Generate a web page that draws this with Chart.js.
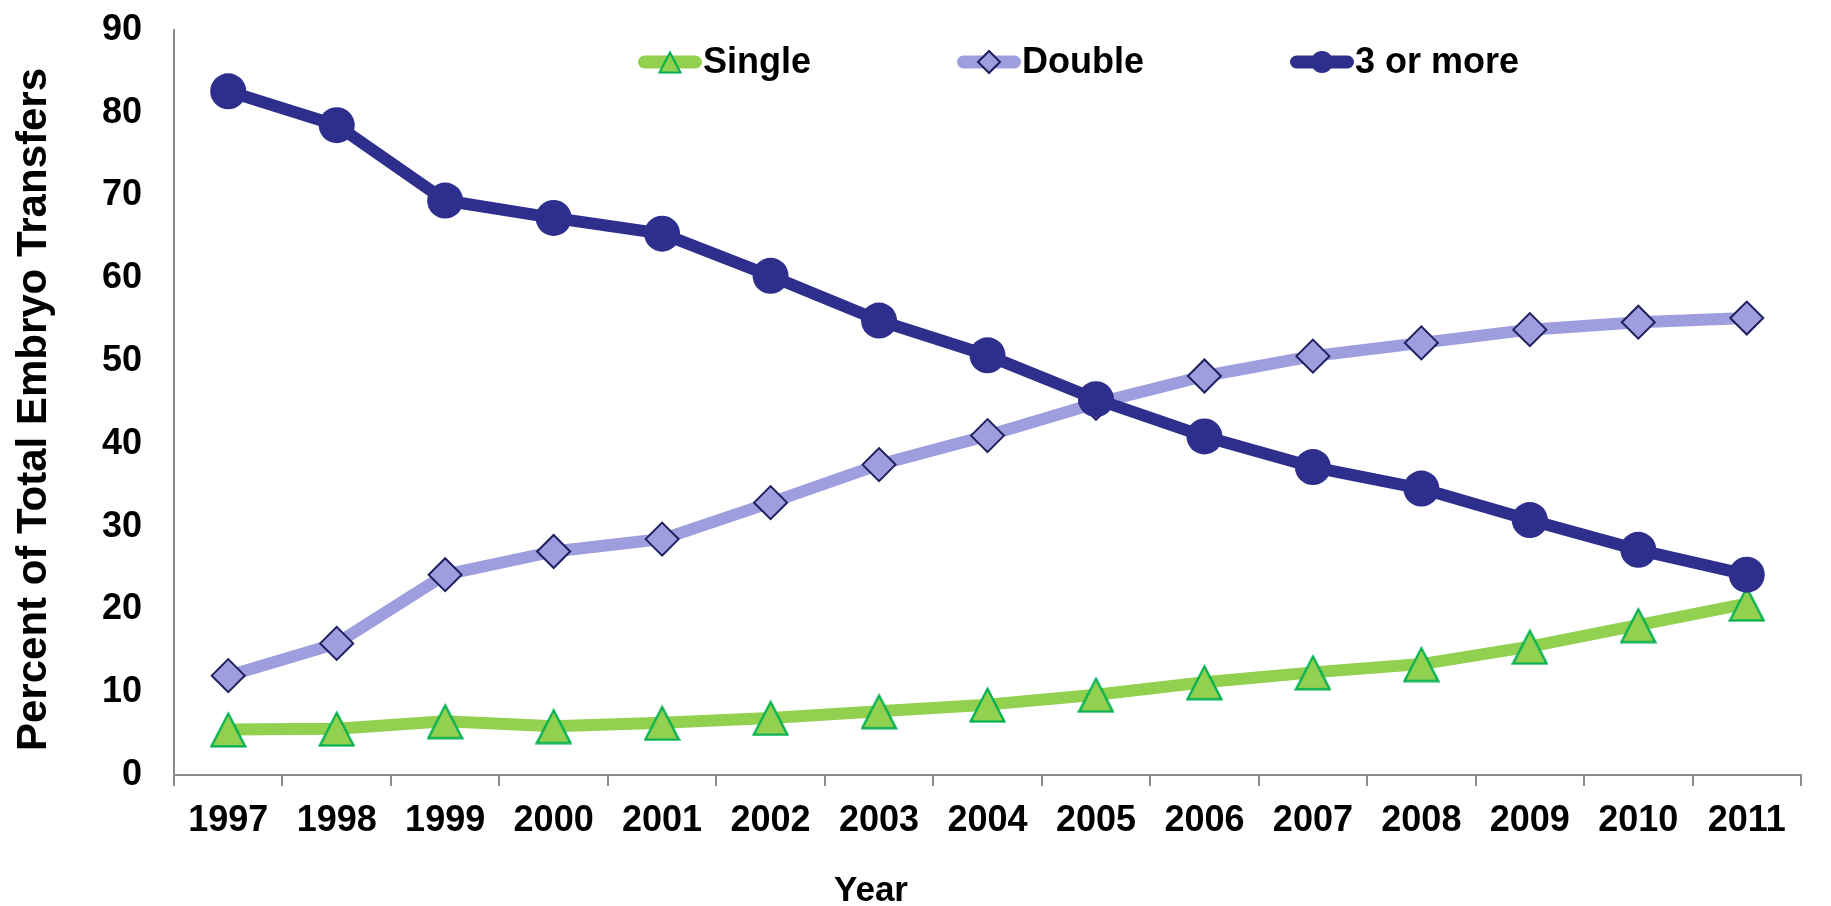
<!DOCTYPE html>
<html>
<head>
<meta charset="utf-8">
<title>Embryo transfers by number of embryos, 1997–2011</title>
<script src="https://cdn.jsdelivr.net/npm/chart.js@4/dist/chart.umd.min.js"></script>
<style>
  html, body { margin: 0; padding: 0; background: #ffffff; }
  canvas { display: block; }
</style>
</head>
<body>
<canvas id="chart" width="1831" height="906"></canvas>
<script>
// Share of all embryo transfers by number of embryos transferred (%)
const years = ['1997', '1998', '1999', '2000', '2001', '2002', '2003', '2004',
               '2005', '2006', '2007', '2008', '2009', '2010', '2011'];
const single      = [5.5, 5.6, 6.5, 5.9, 6.3, 6.9, 7.7, 8.5, 9.7, 11.2, 12.4, 13.4, 15.5, 18.1, 20.7];
const double      = [12.0, 15.9, 24.2, 27.0, 28.5, 32.9, 37.5, 41.0, 44.9, 48.2, 50.6, 52.2, 53.8, 54.7, 55.2];
const threeOrMore = [82.6, 78.5, 69.4, 67.3, 65.4, 60.3, 54.9, 50.7, 45.4, 40.9, 37.2, 34.6, 30.8, 27.2, 24.2];
const seriesNames = ['Single', 'Double', '3 or more'];
const yMin = 0, yMax = 90, yStep = 10;
const xTitle = 'Year';
const yTitle = 'Percent of Total Embryo Transfers';

const FONT = '"Liberation Sans", Arial, Helvetica, sans-serif';
const COLORS = {
  single: '#92D050', singleEdge: '#00B050',
  dbl: '#9E9EDE', dblEdge: '#1F1F5E',
  three: '#2E2E8C',
  axis: '#8C8C8C',
  text: '#000000'
};

// Triangle marker centred on its bounding box, drawn into its own small canvas
function triangleMarker(size, lw, fill, edge) {
  const cv = document.createElement('canvas');
  cv.width = size; cv.height = size;
  const g = cv.getContext('2d');
  const h = lw / 2 + 0.5;
  g.beginPath();
  g.moveTo(size / 2, h + 1);
  g.lineTo(size - h, size - h);
  g.lineTo(h, size - h);
  g.closePath();
  g.fillStyle = fill;
  g.fill();
  g.lineWidth = lw;
  g.lineJoin = 'miter';
  g.strokeStyle = edge;
  g.stroke();
  return cv;
}

const triBig = triangleMarker(37, 2.2, COLORS.single, COLORS.singleEdge);
const triSmall = triangleMarker(24, 2, COLORS.single, COLORS.singleEdge);

// Legend sample: a short thick line with the series marker in its middle
function drawLegendMarker(ctx, kind, x, y) {
  ctx.save();
  if (kind === 'triangle') {
    ctx.drawImage(triSmall, Math.round(x - triSmall.width / 2), Math.round(y - triSmall.height / 2));
  } else if (kind === 'diamond') {
    const r = 11;
    ctx.beginPath();
    ctx.moveTo(x - r, y); ctx.lineTo(x, y - r); ctx.lineTo(x + r, y); ctx.lineTo(x, y + r);
    ctx.closePath();
    ctx.fillStyle = COLORS.dbl; ctx.fill();
    ctx.lineWidth = 2; ctx.strokeStyle = COLORS.dblEdge; ctx.stroke();
  } else {
    ctx.beginPath();
    ctx.arc(x, y, 11, 0, Math.PI * 2);
    ctx.fillStyle = COLORS.three; ctx.fill();
  }
  ctx.restore();
}

const inlineLegend = {
  id: 'inlineLegend',
  afterDatasetsDraw(chart, args, opts) {
    const ctx = chart.ctx;
    ctx.save();
    ctx.font = `bold ${opts.fontSize}px ${FONT}`;
    ctx.textBaseline = 'middle';
    ctx.textAlign = 'left';
    let x = chart.chartArea.left + opts.offsetX;
    const y = opts.y;
    chart.data.datasets.forEach((ds) => {
      ctx.beginPath();
      ctx.lineCap = 'round';
      ctx.lineWidth = opts.lineWidth;
      ctx.strokeStyle = ds.borderColor;
      ctx.moveTo(x + opts.lineWidth / 2, y);
      ctx.lineTo(x + opts.sampleWidth - opts.lineWidth / 2, y);
      ctx.stroke();
      drawLegendMarker(ctx, ds.markerKind, x + opts.sampleWidth / 2, y);
      const tx = x + opts.sampleWidth + opts.textGap;
      ctx.fillStyle = COLORS.text;
      ctx.fillText(ds.label, tx, y + 1);
      x = tx + ctx.measureText(ds.label).width + opts.itemGap;
    });
    ctx.restore();
  }
};

const axisCaptions = {
  id: 'axisCaptions',
  afterDraw(chart, args, opts) {
    const ctx = chart.ctx;
    const ca = chart.chartArea;
    ctx.save();
    ctx.fillStyle = COLORS.text;
    ctx.textAlign = 'center';
    ctx.textBaseline = 'alphabetic';

    ctx.font = `bold ${opts.yFontSize}px ${FONT}`;
    ctx.translate(opts.yBaselineX, (ca.top + ca.bottom) / 2 + opts.yShift);
    ctx.rotate(-Math.PI / 2);
    ctx.fillText(yTitle, 0, 0);
    ctx.setTransform(1, 0, 0, 1, 0, 0);

    ctx.font = `bold ${opts.xFontSize}px ${FONT}`;
    ctx.fillText(xTitle, opts.xCenter, opts.xBaselineY);
    ctx.restore();
  }
};

const tickFont = { family: FONT, size: 36, weight: 'bold' };

new Chart(document.getElementById('chart'), {
  type: 'line',
  data: {
    labels: years,
    datasets: [
      {
        label: seriesNames[0],
        data: single,
        markerKind: 'triangle',
        borderColor: COLORS.single,
        backgroundColor: COLORS.single,
        borderWidth: 12,
        pointStyle: triBig,
        pointRadius: 18,
        order: 2
      },
      {
        label: seriesNames[1],
        data: double,
        markerKind: 'diamond',
        borderColor: COLORS.dbl,
        backgroundColor: COLORS.dbl,
        borderWidth: 12,
        pointStyle: 'rectRot',
        pointRadius: 16.5,
        pointBackgroundColor: COLORS.dbl,
        pointBorderColor: COLORS.dblEdge,
        pointBorderWidth: 2,
        order: 1
      },
      {
        label: seriesNames[2],
        data: threeOrMore,
        markerKind: 'circle',
        borderColor: COLORS.three,
        backgroundColor: COLORS.three,
        borderWidth: 12,
        pointStyle: 'circle',
        pointRadius: 18,
        pointBackgroundColor: COLORS.three,
        pointBorderColor: COLORS.three,
        pointBorderWidth: 0,
        order: 0
      }
    ]
  },
  options: {
    responsive: false,
    devicePixelRatio: 1,
    animation: false,
    events: [],
    layout: { padding: { top: 25, right: 2, left: 0, bottom: 0 } },
    elements: {
      line: { tension: 0, borderJoinStyle: 'round', borderCapStyle: 'round', fill: false }
    },
    plugins: {
      legend: { display: false },
      tooltip: { enabled: false },
      inlineLegend: {
        offsetX: 464, y: 62, fontSize: 36, lineWidth: 13,
        sampleWidth: 64, textGap: 1, itemGap: 146
      },
      axisCaptions: {
        yFontSize: 42, yBaselineX: 46, yShift: 7,
        xFontSize: 35, xCenter: 871, xBaselineY: 901
      }
    },
    scales: {
      x: {
        type: 'category',
        offset: true,
        grid: {
          offset: true,
          drawOnChartArea: false,
          drawTicks: true,
          tickLength: 11,
          color: COLORS.axis,
          lineWidth: 2
        },
        border: { display: true, color: COLORS.axis, width: 2 },
        ticks: {
          color: COLORS.text,
          font: tickFont,
          padding: 13,
          maxRotation: 0,
          minRotation: 0,
          autoSkip: false
        },
        afterFit(scale) {
          scale.height = 131;
          scale.paddingLeft = 0;
          scale.paddingRight = 0;
        }
      },
      y: {
        min: yMin,
        max: yMax,
        grid: { display: false, drawTicks: false },
        border: { display: true, color: COLORS.axis, width: 2 },
        ticks: {
          stepSize: yStep,
          color: COLORS.text,
          font: tickFont,
          padding: 32
        },
        afterFit(scale) {
          scale.width = 174;
          scale.paddingTop = 0;
          scale.paddingBottom = 0;
        }
      }
    }
  },
  plugins: [inlineLegend, axisCaptions]
});
</script>
</body>
</html>
